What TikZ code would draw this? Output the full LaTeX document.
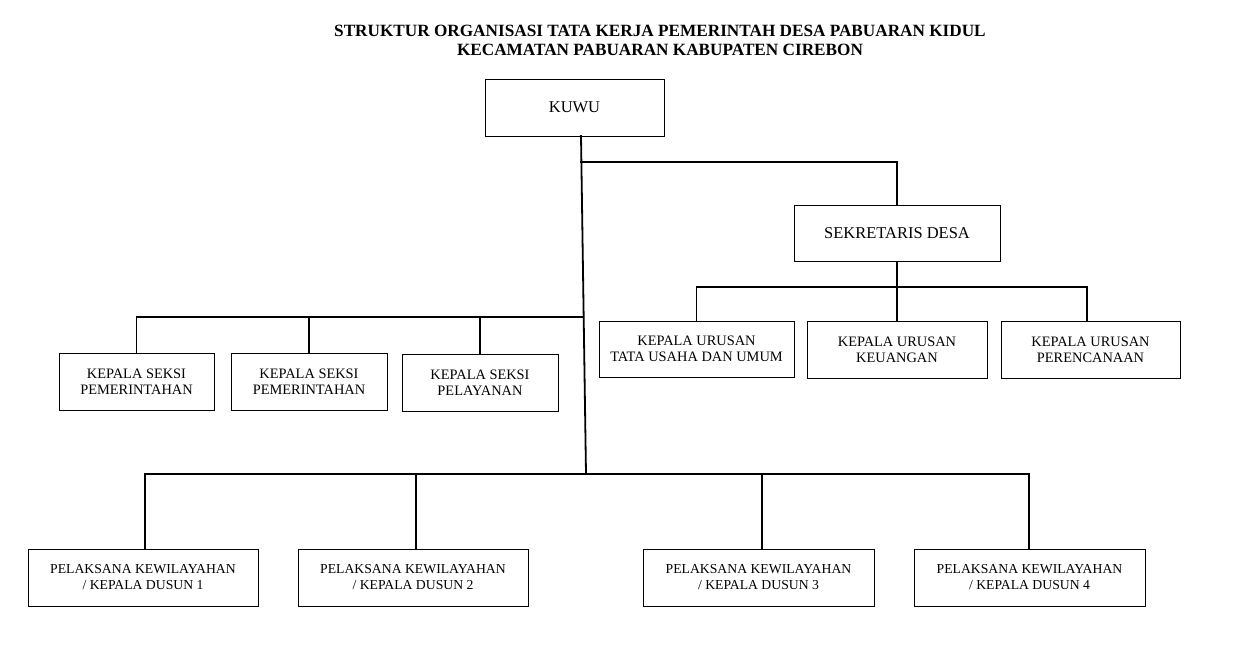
\documentclass[tikz,border=0pt]{standalone}
\usepackage{fontspec}
\setmainfont{Liberation Serif}
\usetikzlibrary{calc}
\begin{document}
\begin{tikzpicture}[x=1pt,y=-1pt,
  orgbox/.style={draw,line width=0.9pt,inner sep=0pt,align=center,
    font=\fontsize{14.4}{16}\selectfont},
  bigbox/.style={orgbox,font=\fontsize{16.5}{19}\selectfont},
  lowbox/.style={orgbox,font=\fontsize{13.7}{16}\selectfont},
  conn/.style={line width=1.8pt,line cap=rect}]
\useasboundingbox (0,0) rectangle (1245,660);
\fill[white] (0,0) rectangle (1245,660);
% title
\node[font=\fontsize{17.2}{19}\selectfont\bfseries,align=center] (title) at (660,40)
  {STRUKTUR ORGANISASI TATA KERJA PEMERINTAH DESA PABUARAN KIDUL\\KECAMATAN PABUARAN KABUPATEN CIREBON};
% boxes
\node[bigbox,minimum width=179pt,minimum height=57pt] (kuwu) at (574.5,107.5) {KUWU};
\node[bigbox,minimum width=206pt,minimum height=56pt] (sek) at (897,233) {SEKRETARIS DESA};
\node[orgbox,minimum width=195pt,minimum height=56pt] (ku1) at (696.5,349) {KEPALA URUSAN\\TATA USAHA DAN UMUM};
\node[orgbox,minimum width=180pt,minimum height=57pt] (ku2) at (897,349.5) {KEPALA URUSAN\\KEUANGAN};
\node[orgbox,minimum width=179pt,minimum height=57pt] (ku3) at (1090.5,349.5) {KEPALA URUSAN\\PERENCANAAN};
\node[orgbox,minimum width=155pt,minimum height=57pt] (ks1) at (136.5,381.5) {KEPALA SEKSI\\PEMERINTAHAN};
\node[orgbox,minimum width=156pt,minimum height=57pt] (ks2) at (309,381.5) {KEPALA SEKSI\\PEMERINTAHAN};
\node[orgbox,minimum width=156pt,minimum height=57pt] (ks3) at (480,382.5) {KEPALA SEKSI\\PELAYANAN};
\node[lowbox,minimum width=230pt,minimum height=57pt] (pk1) at (143,577.5) {PELAKSANA KEWILAYAHAN\\/ KEPALA DUSUN 1};
\node[lowbox,minimum width=230pt,minimum height=57pt] (pk2) at (413,577.5) {PELAKSANA KEWILAYAHAN\\/ KEPALA DUSUN 2};
\node[lowbox,minimum width=231pt,minimum height=57pt] (pk3) at (758.5,577.5) {PELAKSANA KEWILAYAHAN\\/ KEPALA DUSUN 3};
\node[lowbox,minimum width=231pt,minimum height=57pt] (pk4) at (1029.5,577.5) {PELAKSANA KEWILAYAHAN\\/ KEPALA DUSUN 4};
% junctions
\coordinate (ktop) at (581,136);
\coordinate (jsek) at (581,162);
\coordinate (jks) at (583,317);
\coordinate (jpk) at (586,474);
\coordinate (jku) at (897,287);
\coordinate (ku3c) at ($(ku3.north)+(-3.5,0)$);
\coordinate (pk1c) at ($(pk1.north)+(2,0)$);
\coordinate (pk2c) at ($(pk2.north)+(3,0)$);
\coordinate (pk3c) at ($(pk3.north)+(3.5,0)$);
\coordinate (pk4c) at ($(pk4.north)+(-0.5,0)$);
% connectors
\draw[conn] (ktop) -- (jpk);
\draw[conn] (sek.north) |- (jsek);
\draw[conn] (sek.south) -- (ku2.north);
\draw[conn] (ku1.north) |- (jku) -| (ku3c);
\draw[conn] (ks1.north) |- (jks);
\draw[conn] (ks2.north) -- (ks2.north |- jks);
\draw[conn] (ks3.north) -- (ks3.north |- jks);
\draw[conn] (pk1c) |- (jpk) -| (pk4c);
\draw[conn,line width=1.6pt] (pk2c) -- (pk2c |- jpk);
\draw[conn,line width=1.6pt] (pk3c) -- (pk3c |- jpk);
\end{tikzpicture}
\end{document}
